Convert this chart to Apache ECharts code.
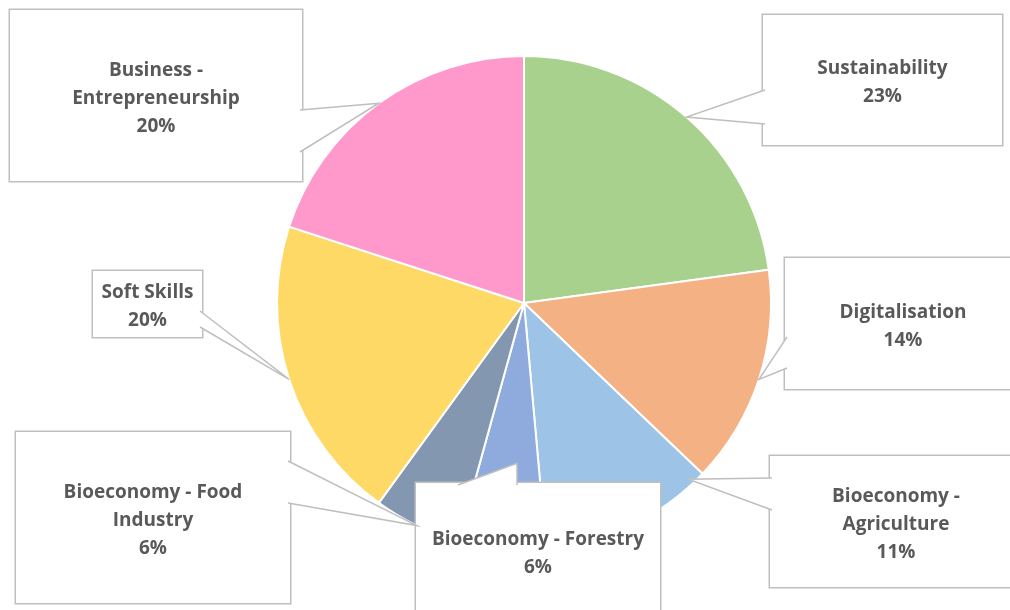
<!DOCTYPE html>
<html>
<head>
<meta charset="utf-8">
<script src="https://cdn.jsdelivr.net/npm/echarts@6/dist/echarts.min.js"></script>
<style>
html, body { margin: 0; padding: 0; background: #fff; }
#pieChart { width: 1010px; height: 610px; }
</style>
</head>
<body>
<div id="pieChart"></div>
<script>
// chart data
const categories = ['Sustainability', 'Digitalisation', 'Bioeconomy - Agriculture', 'Bioeconomy - Forestry',
  'Bioeconomy - Food Industry', 'Soft Skills', 'Business - Entrepreneurship'];
const labelTexts = ['Sustainability', 'Digitalisation', 'Bioeconomy -\nAgriculture', 'Bioeconomy - Forestry',
  'Bioeconomy - Food\nIndustry', 'Soft Skills', 'Business -\nEntrepreneurship'];
const counts = [16, 10, 8, 4, 4, 14, 14];
const colors = ['#a9d18e', '#f4b183', '#9dc3e6', '#8faadc', '#8497b0', '#ffd966', '#ff99cc'];

// callout boxes (left, top, width, height), wedge base points, optional tip (angle from top, radius share)
const callouts = [
  { box: [763, 15, 239, 130], base: [[765, 90], [765, 124]] },
  { box: [785, 258, 236, 131], base: [[787, 337], [787, 368]] },
  { box: [770, 456, 252, 131], base: [[772, 478], [772, 510]], tip: [137, 0.975] },
  { box: [416, 483, 244, 136], base: [[458, 485], [517, 485]], tip: [182.5, 0.65] },
  { box: [16, 432, 274, 171], base: [[288, 461], [288, 503]] },
  { box: [93, 271, 109, 66], base: [[200, 311], [200, 327]] },
  { box: [10, 10, 292, 171], base: [[300, 110], [300, 152]] }
];
const pieCenter = [524, 303];
const pieRadius = 247;
const lineH = 28;
const gapH = 6; // small empty line above the text pushes it down by gapH / 2

let pieChart = echarts.init(document.getElementById('pieChart'));

let data = counts.map((v, i) => {
  let lines = labelTexts[i].split('\n').length + 1;
  let c = callouts[i];
  let pad = (c.box[3] - lines * lineH - gapH) / 2;
  return {
    name: categories[i],
    value: v,
    itemStyle: { color: colors[i] },
    label: {
      width: c.box[2],
      padding: [pad, 0]
    }
  };
});

let option = {
  animation: false,
  series: [
    {
      type: 'pie',
      center: pieCenter,
      radius: pieRadius,
      startAngle: 90,
      clockwise: true,
      avoidLabelOverlap: false,
      percentPrecision: 0,
      itemStyle: {
        borderColor: '#ffffff',
        borderWidth: 2
      },
      label: {
        show: true,
        position: 'outside',
        formatter: (p) => '{gap| }\n' + labelTexts[p.dataIndex] + '\n' + p.percent + '%',
        fontFamily: 'Open Sans',
        fontWeight: 'bold',
        fontSize: 19,
        lineHeight: lineH,
        color: '#595959',
        align: 'center',
        backgroundColor: '#ffffff',
        borderColor: '#bfbfbf',
        borderWidth: 1.5,
        rich: {
          gap: { fontSize: 4, lineHeight: gapH, height: gapH }
        }
      },
      labelLine: {
        show: true,
        smooth: false,
        lineStyle: { color: '#bfbfbf', width: 1.5 }
      },
      labelLayout: function (params) {
        let c = callouts[params.dataIndex];
        let tip = params.labelLinePoints[0];
        if (c.tip) {
          let a = c.tip[0] * Math.PI / 180;
          tip = [pieCenter[0] + Math.sin(a) * pieRadius * c.tip[1],
                 pieCenter[1] - Math.cos(a) * pieRadius * c.tip[1]];
        }
        return {
          x: c.box[0] + c.box[2] / 2,
          y: c.box[1] + c.box[3] / 2,
          align: 'center',
          verticalAlign: 'middle',
          labelLinePoints: [c.base[0], tip, c.base[1]]
        };
      },
      emphasis: { disabled: true },
      data: data
    }
  ]
};
pieChart.setOption(option);

// callout wedges: white fill, drawn over the slices and the box border
let zr = pieChart.getZr();
zr.storage.getDisplayList(true).forEach((el) => {
  if (el.type === 'text') {
    el.z2 = 50;
    el.markRedraw();
  } else if (el.type === 'polyline') {
    el.z2 = 60;
    el.setStyle({ fill: '#ffffff' });
    el.markRedraw();
  }
});
zr.refreshImmediately();
</script>
</body>
</html>
